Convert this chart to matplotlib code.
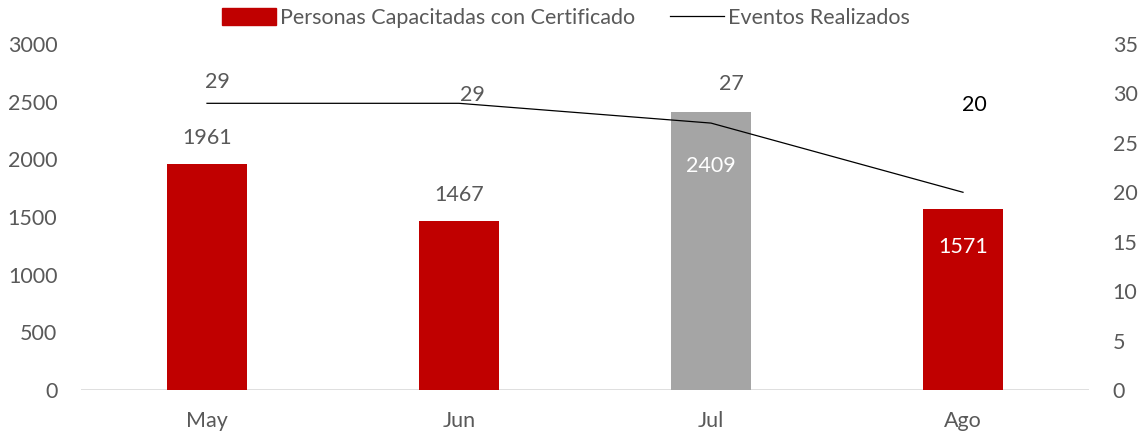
import matplotlib.pyplot as plt
import matplotlib.lines as mlines
import matplotlib.patches as mpatches

plt.rcParams['font.family'] = ['Lato', 'DejaVu Sans']

meses = ["May", "Jun", "Jul", "Ago"]
personas = [1961, 1467, 2409, 1571]
eventos = [29, 29, 27, 20]
colores_barra = ["#C00000", "#C00000", "#A5A5A5", "#C00000"]

TXT = "#595959"
FS = 15.5

fig = plt.figure(figsize=(11.43, 4.34), dpi=100)
ax = fig.add_axes([81 / 1143, 44 / 434, (1089 - 81) / 1143, (390 - 44) / 434])
ax2 = ax.twinx()

x = list(range(len(meses)))
ax.bar(x, personas, width=0.32, color=colores_barra, zorder=2)
ax.set_xlim(-0.5, 3.5)
ax.set_ylim(0, 3000)
ax.set_yticks(range(0, 3001, 500))
ax.set_xticks(x)
ax.set_xticklabels(meses)

ax2.plot(x, eventos, color="black", lw=0.9, zorder=3)
ax2.set_ylim(0, 35)
ax2.set_yticks(range(0, 36, 5))

for a in (ax, ax2):
    for s in a.spines.values():
        s.set_visible(False)
    a.tick_params(length=0, labelsize=FS, labelcolor=TXT)
ax.tick_params(axis="y", pad=17)
ax.tick_params(axis="x", pad=15)
ax2.tick_params(axis="y", pad=17)
ax.axhline(0, color="#D9D9D9", lw=1.2, zorder=1)

# etiquetas de barras (offset en pixeles desde la parte superior)
bar_off = [26, 26, -54, -38]
for i, (v, off) in enumerate(zip(personas, bar_off)):
    c = TXT if off > 0 else "white"
    ax.annotate(str(v), (i, v), xytext=(0, off), textcoords="offset pixels",
                ha="center", va="center", fontsize=FS, color=c)

# etiquetas de la linea
line_off = [(10, 21), (13, 8), (20, 39), (11, 87)]
line_col = [TXT, TXT, TXT, "black"]
for i, (v, off, c) in enumerate(zip(eventos, line_off, line_col)):
    ax2.annotate(str(v), (i, v), xytext=off, textcoords="offset pixels",
                 ha="center", va="center", fontsize=FS, color=c)

h1 = mpatches.Patch(color="#C00000")
h2 = mlines.Line2D([], [], color="black", lw=0.9)
fig.legend([h1, h2], ["Personas Capacitadas con Certificado", "Eventos Realizados"],
           loc="center", bbox_to_anchor=(566 / 1143, 1 - 18 / 434), ncol=2,
           frameon=False, fontsize=FS, labelcolor=TXT, handlelength=2.5,
           handleheight=0.8, handletextpad=0.2, columnspacing=1.6)

fig.savefig("out.png", dpi=100)
